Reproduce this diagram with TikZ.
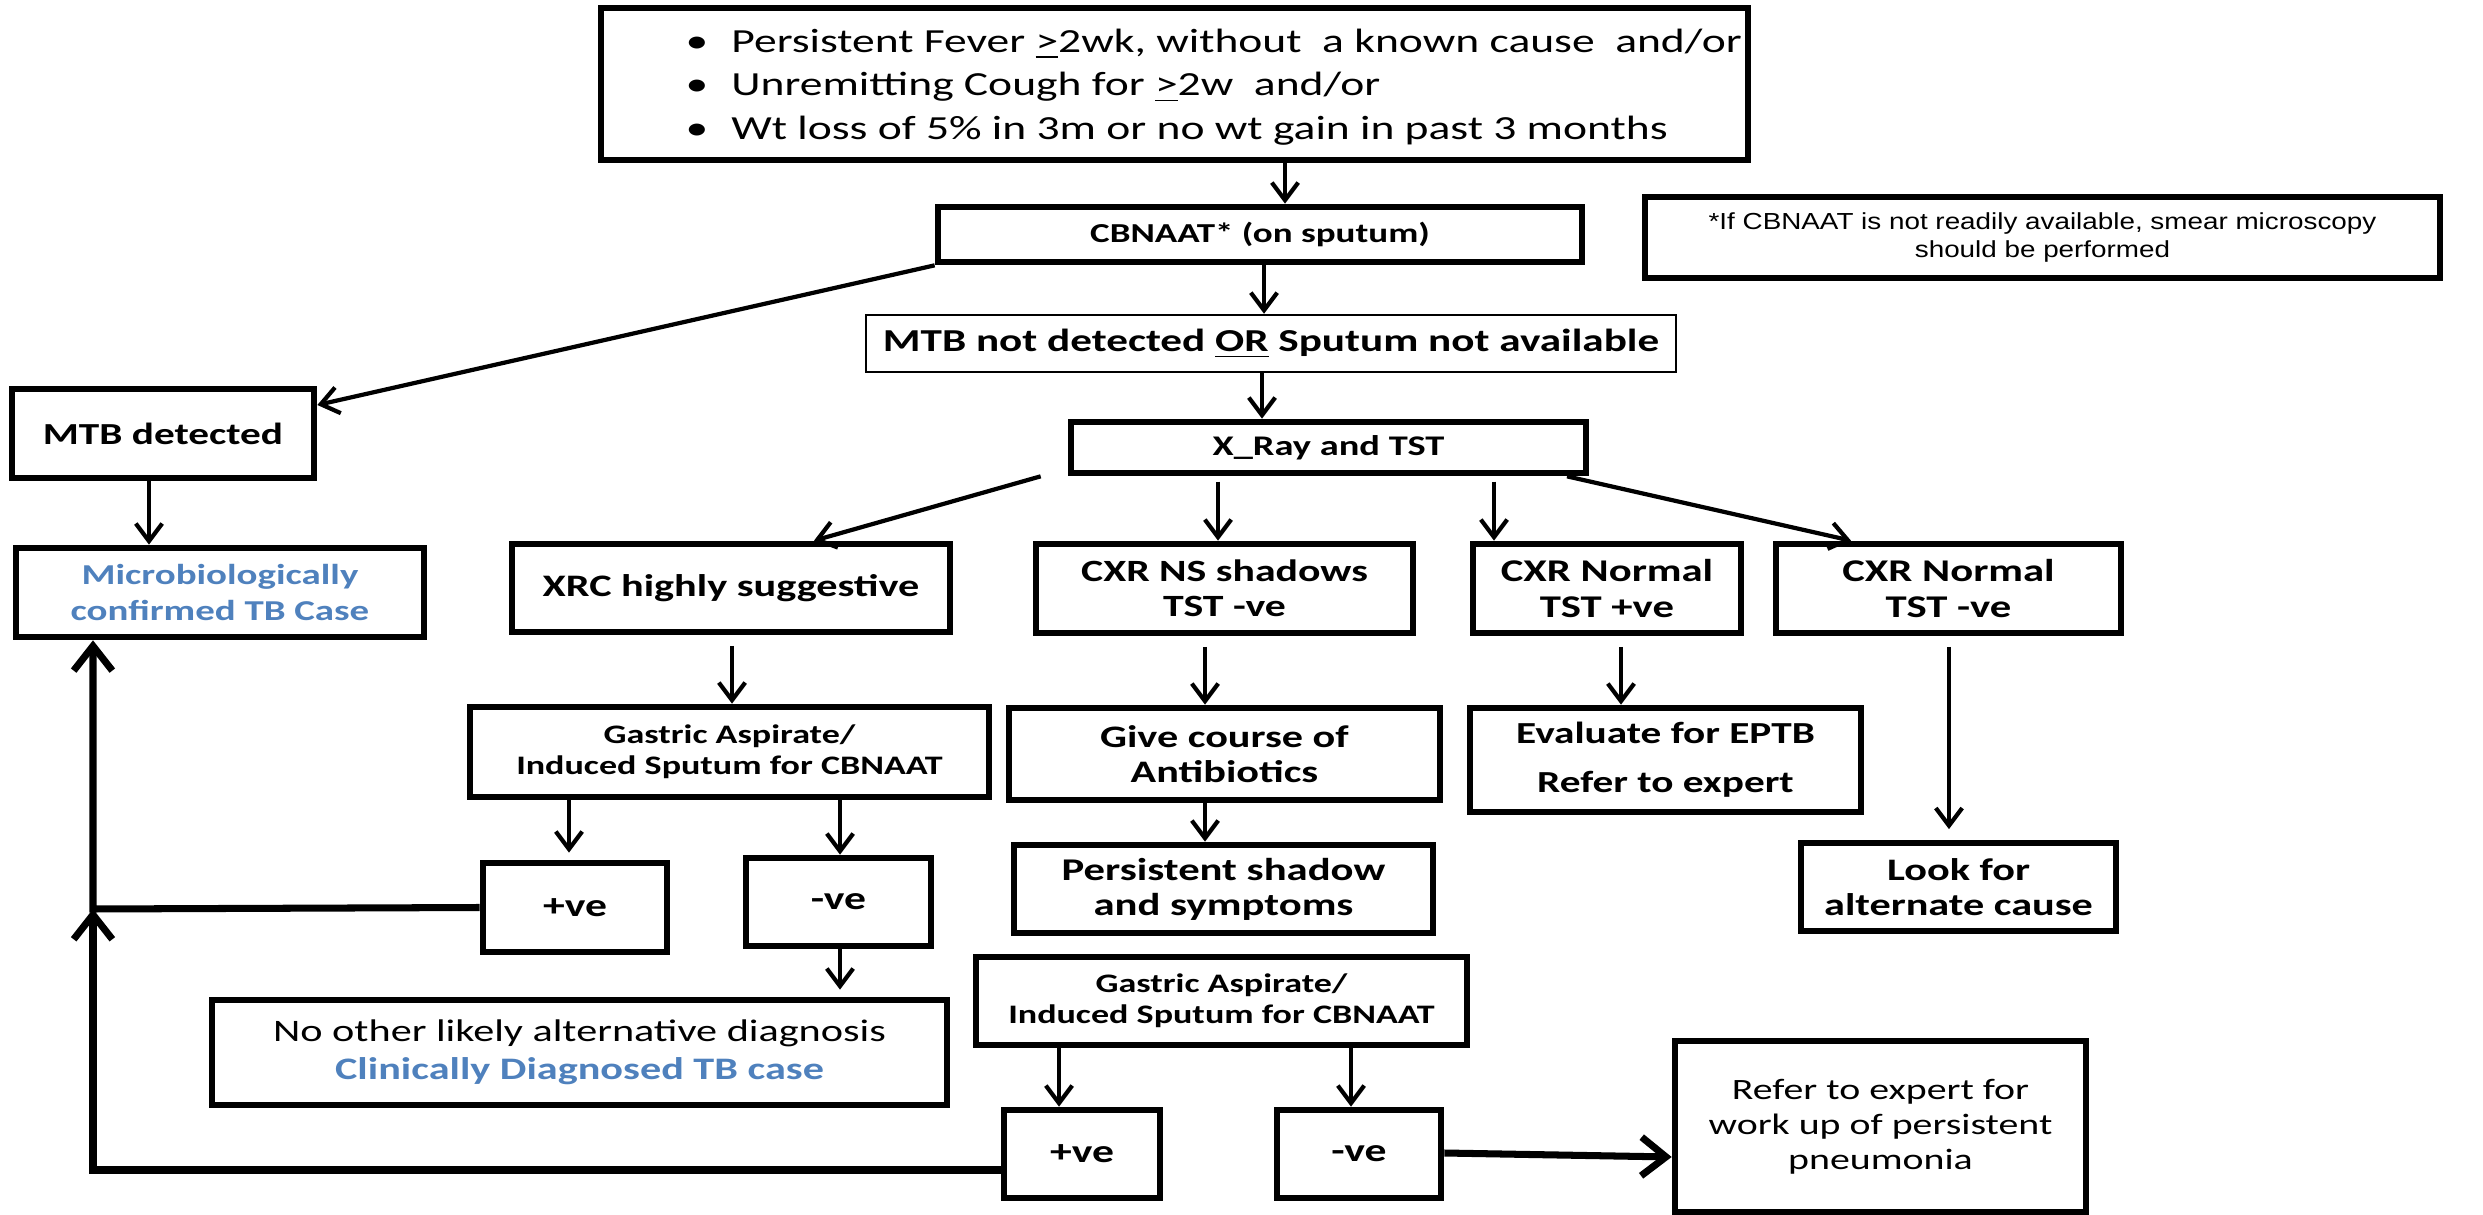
\documentclass[tikz,border=0pt]{standalone}
\usepackage{fontspec}
\setmainfont{Carlito}[FakeStretch=1.35]
\newfontfamily\arialf{Liberation Sans}[FakeStretch=1.2]
\usetikzlibrary{arrows.meta,calc}
\definecolor{tbblue}{RGB}{79,129,189}
\def\pxu{0.28453pt}
\newcommand\fs[2]{\fontsize{#1}{#2}\selectfont}
\newcommand\bx[7]{\node[#6, minimum width={((#4)-(#2))*\pxu}, minimum height={((#5)-(#3))*\pxu}] (#1) at ({((#2)+(#4))/2},{((#3)+(#5))/2}) {#7};}
\tikzset{
  bx/.style={draw, line width=1.9pt, inner sep=0pt, align=center},
  arr/.style={line width=1.2pt, -{Straight Barb[length=5pt,width=7.5pt]}},
  tarr/.style={line width=2pt, -{Straight Barb[length=7pt,width=11pt]}},
}
\begin{document}
\begin{tikzpicture}[x=0.28453pt, y=-0.28453pt]
\useasboundingbox (0,0) rectangle (2483,1215);
% boxes
\bx{top}{601}{8}{1748}{160}{bx}{}
\node[anchor=west, align=left, inner sep=0pt, font=\fs{9.6}{12.4}] (toptext) at (685,87)
 {\makebox[13pt][l]{\textbullet}Persistent Fever \underline{>}2wk, without\ \ a known cause\ \ and/or\\
  \makebox[13pt][l]{\textbullet}Unremitting Cough for \underline{>}2w\ \ and/or\\
  \makebox[13pt][l]{\textbullet}Wt loss of 5\% in 3m or no wt gain in past 3 months};
\bx{cb}{938}{207}{1582}{262}{bx, font=\bfseries\fs{7.8}{9}}{CBNAAT* (on sputum)}
\bx{fn}{1645}{197}{2440}{278}{bx, font=\arialf\fs{6.6}{7.7}}{*If CBNAAT is not readily available, smear microscopy\\should be performed}
\bx{mnd}{866}{315}{1676}{372}{bx, line width=0.7pt, font=\bfseries\fs{9.1}{10}}{MTB not detected \underline{OR} Sputum not available}
\bx{mtbd}{12}{389}{314}{478}{bx, font=\bfseries\fs{8.7}{10}}{MTB detected}
\bx{xr}{1071}{422}{1586}{473}{bx, font=\bfseries\fs{8.1}{9}}{X\_Ray and TST}
\bx{mic}{16}{548}{424}{637}{bx, text=tbblue, font=\bfseries\fs{8.2}{10}}{Microbiologically\\confirmed TB Case}
\bx{xrc}{512}{544}{950}{632}{bx, font=\bfseries\fs{8.9}{10}}{XRC highly suggestive}
\bx{cns}{1036}{544}{1413}{633}{bx, font=\bfseries\fs{8.8}{10}}{CXR NS shadows\\TST -ve}
\bx{cnp}{1473}{544}{1741}{633}{bx, font=\bfseries\fs{9}{10}}{CXR Normal\\TST +ve}
\bx{cnn}{1776}{544}{2121}{633}{bx, font=\bfseries\fs{9}{10}}{CXR Normal\\TST -ve}
\bx{ga1}{470}{707}{989}{797}{bx, font=\bfseries\fs{7.6}{8.8}}{Gastric Aspirate/\\Induced Sputum for CBNAAT}
\bx{give}{1009}{708}{1440}{800}{bx, font=\bfseries\fs{8.9}{10}}{Give course of\\Antibiotics}
\bx{eval}{1470}{708}{1861}{812}{bx, font=\bfseries\fs{8.7}{14}}{Evaluate for EPTB\\Refer to expert}
\bx{p1}{483}{863}{667}{952}{bx, font=\bfseries\fs{9.2}{10}}{+ve}
\bx{n1}{746}{858}{931}{946}{bx, font=\bfseries\fs{9.2}{10}}{-ve}
\bx{pers}{1014}{845}{1433}{933}{bx, font=\bfseries\fs{9}{10}}{Persistent shadow\\and symptoms}
\bx{look}{1801}{843}{2116}{931}{bx, font=\bfseries\fs{8.9}{10}}{Look for\\alternate cause}
\bx{noalt}{212}{1000}{947}{1105}{bx, font=\fs{8.9}{10.8}}{No other likely alternative diagnosis\\{\color{tbblue}\bfseries Clinically Diagnosed TB case}}
\bx{ga2}{976}{957}{1467}{1045}{bx, font=\bfseries\fs{7.6}{8.8}}{Gastric Aspirate/\\Induced Sputum for CBNAAT}
\bx{p2}{1004}{1110}{1160}{1198}{bx, font=\bfseries\fs{9.2}{10}}{+ve}
\bx{n2}{1277}{1110}{1441}{1198}{bx, font=\bfseries\fs{9.2}{10}}{-ve}
\bx{refer}{1675}{1041}{2086}{1212}{bx, font=\fs{8.4}{10}}{Refer to expert for\\work up of persistent\\pneumonia}
% junction coordinates
\coordinate (j1) at (93,909);
\coordinate (j2) at (93,1170);
% arrows
\draw[arr] (top.south -| 1285,0) -- (cb.north -| 1285,0);
\draw[arr] (cb.south -| 1264,0) -- (mnd.north -| 1264,0);
\draw[arr] (cb.south west) -- (mtbd.east |- 0,405);
\draw[arr] (mnd.south -| 1262,0) -- (xr.north -| 1262,0);
\draw[arr] ($(xr.south west)+(-27,0)$) -- (xrc.north -| 814,0);
\draw[arr, shorten <=1.5pt] (xr.south -| 1218,0) -- (cns.north -| 1218,0);
\draw[arr, shorten <=1.5pt] (xr.south -| 1494,0) -- (cnp.north -| 1494,0);
\draw[arr] (xr.south -| 1567,0) -- (cnn.north -| 1851,0);
\draw[arr] (mtbd.south -| 149,0) -- (mic.north -| 149,0);
\draw[arr, shorten <=3pt] (xrc.south -| 732,0) -- (ga1.north -| 732,0);
\draw[arr, shorten <=3pt] (cns.south -| 1205,0) -- (give.north -| 1205,0);
\draw[arr, shorten <=3pt] (cnp.south -| 1621,0) -- (eval.north -| 1621,0);
\draw[arr, shorten <=3pt, shorten >=3pt] (cnn.south -| 1949,0) -- (look.north -| 1949,0);
\draw[arr] (give.south -| 1205,0) -- (pers.north -| 1205,0);
\draw[arr, shorten >=2pt] (ga1.south -| 569,0) -- (p1.north -| 569,0);
\draw[arr] (ga1.south -| 840,0) -- (n1.north -| 840,0);
\draw[arr, shorten >=2pt] (n1.south -| 840,0) -- (noalt.north -| 840,0);
\draw[arr] (ga2.south -| 1059,0) -- (p2.north -| 1059,0);
\draw[arr] (ga2.south -| 1351,0) -- (n2.north -| 1351,0);
\draw[tarr] (n2.east |- 0,1153) -- (refer.west |- 0,1157);
\draw[tarr] (p1.west) -- (j1) -- (mic.south -| j1);
\draw[tarr] (p2.west |- j2) -- (j2) -- (j1);
\end{tikzpicture}
\end{document}
